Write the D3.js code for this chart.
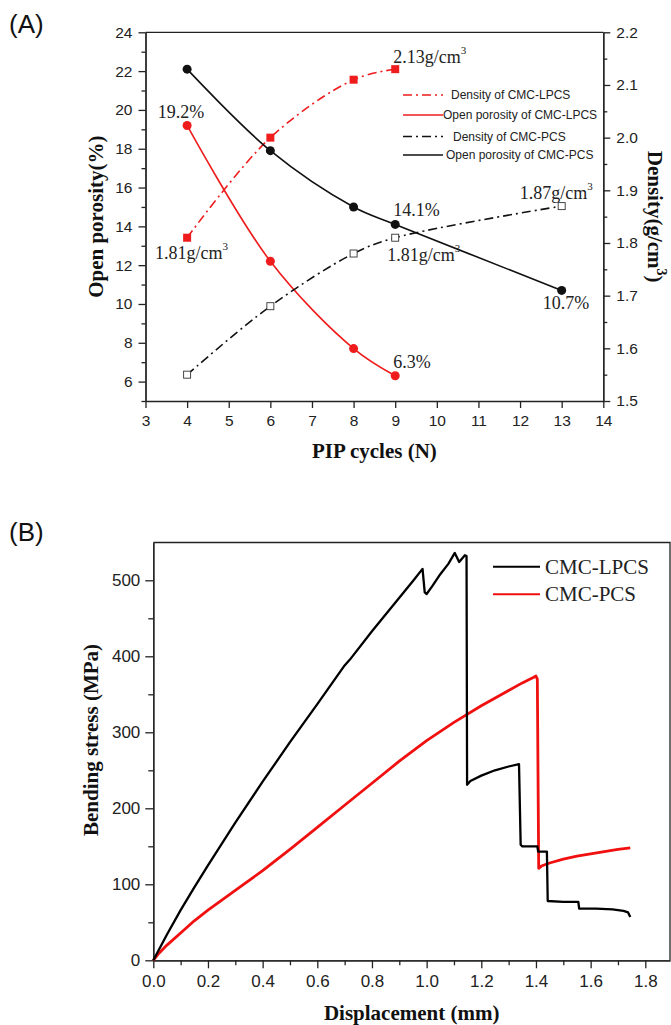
<!DOCTYPE html>
<html>
<head>
<meta charset="utf-8">
<script src="https://cdn.jsdelivr.net/npm/d3@7/dist/d3.min.js"></script>
<style>
  html, body { margin: 0; padding: 0; background: #fff; }
  svg { display: block; }
  .tick text { font-family: "Liberation Sans", Arial, sans-serif; fill: #222; }
  .domain, .tick line { stroke: #222; stroke-width: 1.3; }
</style>
</head>
<body>
<svg id="chart" width="671" height="1025"></svg>
<script>
// ---------- Panel A data: porosity and density against PIP cycles ----------
const cyclesPCS = [4, 6, 8, 9, 13];
const cyclesLPCS = [4, 6, 8, 9];
const porosityLPCS = [19.2, 12.2, 7.7, 6.3];     // open porosity (%)
const densityLPCS = [1.81, 2.00, 2.11, 2.13];    // g/cm3
const porosityPCS = [22.1, 17.9, 15.0, 14.1, 10.7];
const densityPCS = [1.55, 1.68, 1.78, 1.81, 1.87];

const cycleTicks = [3, 4, 5, 6, 7, 8, 9, 10, 11, 12, 13, 14];
const porosityTicks = [6, 8, 10, 12, 14, 16, 18, 20, 22, 24];
const densityTicks = [1.5, 1.6, 1.7, 1.8, 1.9, 2.0, 2.1, 2.2];

const legendA = [
  "Density of CMC-LPCS",
  "Open porosity of CMC-LPCS",
  "Density of CMC-PCS",
  "Open porosity of CMC-PCS"
];

// ---------- Panel B data: bending stress-displacement curves ----------
const dispLPCS = [0, 0.05, 0.1, 0.15, 0.2, 0.3, 0.4, 0.5, 0.6, 0.7, 0.72, 0.8, 0.9, 0.95, 0.985,
  0.993, 1.0, 1.02, 1.05, 1.08, 1.103, 1.119, 1.14, 1.146, 1.148, 1.16, 1.2, 1.25, 1.3, 1.338,
  1.344, 1.35, 1.405, 1.408, 1.44, 1.443, 1.5, 1.555, 1.558, 1.62, 1.68, 1.72, 1.737, 1.745];
const stressLPCS = [0, 34, 66, 96, 125, 181, 235, 287, 337, 388, 396, 433, 477, 499, 515,
  484, 482, 492, 508, 522, 536, 524, 533, 532, 231, 236, 243, 250, 255, 258,
  152, 150, 150, 143, 143, 78, 77, 77, 68, 68, 67, 65, 63, 57];

const dispPCS = [0, 0.02, 0.05, 0.1, 0.15, 0.2, 0.3, 0.4, 0.5, 0.6, 0.7, 0.8, 0.9, 1.0, 1.1,
  1.2, 1.3, 1.35, 1.39, 1.4, 1.405, 1.41, 1.42, 1.45, 1.5, 1.55, 1.6, 1.65, 1.7, 1.745];
const stressPCS = [0, 9, 20, 36, 52, 66, 92, 118, 146, 175, 204, 233, 262, 289, 313,
  335, 355, 365, 372, 374, 370, 121, 124, 128, 133, 137, 140, 143, 146, 148];

const dispTicks = [0, 0.2, 0.4, 0.6, 0.8, 1.0, 1.2, 1.4, 1.6, 1.8];
const stressTicks = [0, 100, 200, 300, 400, 500];
const legendB = ["CMC-LPCS", "CMC-PCS"];

const RED = "#ee1c1c";
const INK = "#111";
const serif = '"Liberation Serif", "Times New Roman", serif';
const sans = '"Liberation Sans", Arial, sans-serif';

const svg = d3.select("#chart");

// ======================= Panel A =======================
const A = { left: 145.5, right: 603.3, top: 32.3, bottom: 401 };
const xA = d3.scaleLinear().domain([3, 14]).range([A.left, A.right]);
const yP = d3.scaleLinear().domain([5, 24]).range([A.bottom, A.top]);
const yD = d3.scaleLinear().domain([1.5, 2.2]).range([A.bottom, A.top]);

const gA = svg.append("g");

// top frame line
gA.append("line").attr("x1", A.left).attr("x2", A.right).attr("y1", A.top).attr("y2", A.top)
  .attr("stroke", "#222").attr("stroke-width", 1.3);

function styleAxis(g, fs) {
  g.selectAll(".tick text").attr("font-size", fs);
}
gA.append("g").attr("transform", `translate(0,${A.bottom})`)
  .call(d3.axisBottom(xA).tickValues(cycleTicks).tickFormat(d3.format("d")).tickSize(7).tickPadding(7).tickSizeOuter(0))
  .call(g => styleAxis(g, 15.5));

gA.append("g").attr("transform", `translate(${A.left},0)`)
  .call(d3.axisLeft(yP).tickValues(d3.range(5, 24, 2)).tickFormat("").tickSize(4).tickSizeOuter(0));
gA.append("g").attr("transform", `translate(${A.left},0)`)
  .call(d3.axisLeft(yP).tickValues(porosityTicks).tickFormat(d3.format("d")).tickSize(7).tickPadding(6).tickSizeOuter(0))
  .call(g => styleAxis(g, 15.5));

gA.append("g").attr("transform", `translate(${A.right},0)`)
  .call(d3.axisRight(yD).tickValues(d3.range(1.55, 2.2, 0.1)).tickFormat("").tickSize(4).tickSizeOuter(0));
gA.append("g").attr("transform", `translate(${A.right},0)`)
  .call(d3.axisRight(yD).tickValues(densityTicks).tickFormat(d3.format(".1f")).tickSize(7).tickPadding(6).tickSizeOuter(0))
  .call(g => styleAxis(g, 15.5));

// axis titles
gA.append("text").attr("x", xA(8.5)).attr("y", 458).attr("text-anchor", "middle")
  .attr("font-family", serif).attr("font-weight", "bold").attr("font-size", 21).attr("fill", INK)
  .text("PIP cycles (N)");
gA.append("text").attr("transform", `translate(103,${(A.top + A.bottom) / 2}) rotate(-90)`)
  .attr("text-anchor", "middle").attr("font-family", serif).attr("font-weight", "bold")
  .attr("font-size", 21).attr("fill", INK).text("Open porosity(%)");
const dTitle = gA.append("text").attr("transform", `translate(648,${(A.top + A.bottom) / 2}) rotate(90)`)
  .attr("text-anchor", "middle").attr("font-family", serif).attr("font-weight", "bold")
  .attr("font-size", 21).attr("fill", INK);
dTitle.append("tspan").text("Density(g/cm");
dTitle.append("tspan").attr("font-size", 14).attr("dy", -9).text("3");
dTitle.append("tspan").attr("dy", 9).text(")");

gA.append("text").attr("x", 9).attr("y", 33).attr("font-family", sans).attr("font-size", 26)
  .attr("fill", INK).text("(A)");

// series, drawn as smooth curves through the measured points
const dashDot = "9,4,2,4";
const curve = d3.curveCatmullRom.alpha(0.5);
function seriesA(xs, ys, yScale, color, dash) {
  const pts = xs.map((x, i) => [x, ys[i]]);
  gA.append("path").datum(pts)
    .attr("d", d3.line().x(d => xA(d[0])).y(d => yScale(d[1])).curve(curve))
    .attr("fill", "none").attr("stroke", color).attr("stroke-width", 1.6)
    .attr("stroke-dasharray", dash || null);
  return pts;
}
const pDL = seriesA(cyclesLPCS, densityLPCS, yD, RED, dashDot);
const pPL = seriesA(cyclesLPCS, porosityLPCS, yP, RED);
const pDP = seriesA(cyclesPCS, densityPCS, yD, INK, dashDot);
const pPP = seriesA(cyclesPCS, porosityPCS, yP, INK);

// markers
gA.selectAll(".sqDL").data(pDL).enter().append("rect")
  .attr("x", d => xA(d[0]) - 4).attr("y", d => yD(d[1]) - 4).attr("width", 8).attr("height", 8)
  .attr("fill", RED);
gA.selectAll(".sqDP").data(pDP).enter().append("rect")
  .attr("x", d => xA(d[0]) - 3.5).attr("y", d => yD(d[1]) - 3.5).attr("width", 7).attr("height", 7)
  .attr("fill", "#fff").attr("stroke", "#333").attr("stroke-width", 0.9);
gA.selectAll(".cPL").data(pPL).enter().append("circle")
  .attr("cx", d => xA(d[0])).attr("cy", d => yP(d[1])).attr("r", 4.5).attr("fill", RED);
gA.selectAll(".cPP").data(pPP).enter().append("circle")
  .attr("cx", d => xA(d[0])).attr("cy", d => yP(d[1])).attr("r", 4.5).attr("fill", INK);

// value annotations
function annotate(x, y, main, sup, dx, dy, anchor) {
  const t = gA.append("text").attr("x", x + dx).attr("y", y + dy)
    .attr("text-anchor", anchor || "start").attr("font-family", serif)
    .attr("font-size", 18).attr("fill", "#222");
  t.append("tspan").text(main);
  if (sup) t.append("tspan").attr("font-size", 11).attr("dy", -9).text(sup);
}
const fmt2 = d3.format(".2f");
annotate(xA(9), yD(densityLPCS[3]), fmt2(densityLPCS[3]) + "g/cm", "3", -2, -6);
annotate(xA(4), yD(densityLPCS[0]), fmt2(densityLPCS[0]) + "g/cm", "3", -32, 21);
annotate(xA(4), yP(porosityLPCS[0]), porosityLPCS[0] + "%", null, -6, -7, "middle");
annotate(xA(9), yP(porosityLPCS[3]), porosityLPCS[3] + "%", null, -2, -8);
annotate(xA(9), yP(porosityPCS[3]), porosityPCS[3] + "%", null, -2, -8);
annotate(xA(13), yD(densityPCS[4]), fmt2(densityPCS[4]) + "g/cm", "3", -42, -7);
annotate(xA(9), yD(densityPCS[3]), fmt2(densityPCS[3]) + "g/cm", "3", -8, 23);
annotate(xA(13), yP(porosityPCS[4]), porosityPCS[4] + "%", null, -19, 19);

// legend A
const legStyles = [
  { color: RED, dash: dashDot, tx: 451 },
  { color: RED, dash: null, tx: 443 },
  { color: INK, dash: dashDot, tx: 453 },
  { color: INK, dash: null, tx: 446 }
];
const legRowsY = [95, 115, 136.5, 155];
legendA.forEach((name, i) => {
  const s = legStyles[i];
  gA.append("line").attr("x1", 403).attr("x2", 443).attr("y1", legRowsY[i]).attr("y2", legRowsY[i])
    .attr("stroke", s.color).attr("stroke-width", 1.6).attr("stroke-dasharray", s.dash);
  gA.append("text").attr("x", s.tx).attr("y", legRowsY[i] + 4.3).attr("font-family", sans)
    .attr("font-size", 12).attr("fill", "#222").text(name);
});

// ======================= Panel B =======================
const B = { left: 153.3, top: 542.5, bottom: 960.3 };
const xB = d3.scaleLinear().domain([0, 1.8]).range([B.left, 645.3]);
const yB = d3.scaleLinear().domain([0, 500]).range([B.bottom, 580.3]);
const xMaxB = xB.invert(670);
const yMaxB = yB.invert(B.top);
xB.domain([0, xMaxB]).range([B.left, 670]);
yB.domain([0, yMaxB]).range([B.bottom, B.top]);

const gB = svg.append("g");

// frame: top and right lines
gB.append("path").attr("d", `M${B.left},${B.top}H${xB(xMaxB)}V${B.bottom}`)
  .attr("fill", "none").attr("stroke", "#222").attr("stroke-width", 1.3);

gB.append("g").attr("transform", `translate(0,${B.bottom})`)
  .call(d3.axisBottom(xB).tickValues(d3.range(0.1, 1.85, 0.2)).tickFormat("").tickSize(5).tickSizeOuter(0));
gB.append("g").attr("transform", `translate(0,${B.bottom})`)
  .call(d3.axisBottom(xB).tickValues(dispTicks).tickFormat(d3.format(".1f")).tickSize(8).tickPadding(7).tickSizeOuter(0))
  .call(g => styleAxis(g, 17));

gB.append("g").attr("transform", `translate(${B.left},0)`)
  .call(d3.axisLeft(yB).tickValues(d3.range(50, 550, 100)).tickFormat("").tickSize(5).tickSizeOuter(0));
gB.append("g").attr("transform", `translate(${B.left},0)`)
  .call(d3.axisLeft(yB).tickValues(stressTicks).tickFormat(d3.format("d")).tickSize(8).tickPadding(5).tickSizeOuter(0))
  .call(g => styleAxis(g, 17));

gB.append("text").attr("x", (B.left + 670) / 2).attr("y", 1020).attr("text-anchor", "middle")
  .attr("font-family", serif).attr("font-weight", "bold").attr("font-size", 21).attr("fill", INK)
  .text("Displacement (mm)");
gB.append("text").attr("transform", `translate(98,740) rotate(-90)`).attr("text-anchor", "middle")
  .attr("font-family", serif).attr("font-weight", "bold").attr("font-size", 21).attr("fill", INK)
  .text("Bending stress (MPa)");
gB.append("text").attr("x", 9).attr("y", 541).attr("font-family", sans).attr("font-size", 26)
  .attr("fill", INK).text("(B)");

const lineB = d3.line().x(d => xB(d[0])).y(d => yB(d[1]));
gB.append("path").datum(dispPCS.map((x, i) => [x, stressPCS[i]]))
  .attr("d", lineB).attr("fill", "none").attr("stroke", "#f01010").attr("stroke-width", 2.8)
  .attr("stroke-linejoin", "round");
gB.append("path").datum(dispLPCS.map((x, i) => [x, stressLPCS[i]]))
  .attr("d", lineB).attr("fill", "none").attr("stroke", "#000").attr("stroke-width", 2.3)
  .attr("stroke-linejoin", "round");

// legend B
const legBColors = ["#000", "#f01010"];
const legBY = [566.7, 594.3];
legendB.forEach((name, i) => {
  gB.append("line").attr("x1", 493).attr("x2", 540).attr("y1", legBY[i]).attr("y2", legBY[i])
    .attr("stroke", legBColors[i]).attr("stroke-width", 2);
  gB.append("text").attr("x", 545).attr("y", legBY[i] + 7).attr("font-family", serif)
    .attr("font-size", 21).attr("fill", "#222").text(name);
});
</script>
</body>
</html>
